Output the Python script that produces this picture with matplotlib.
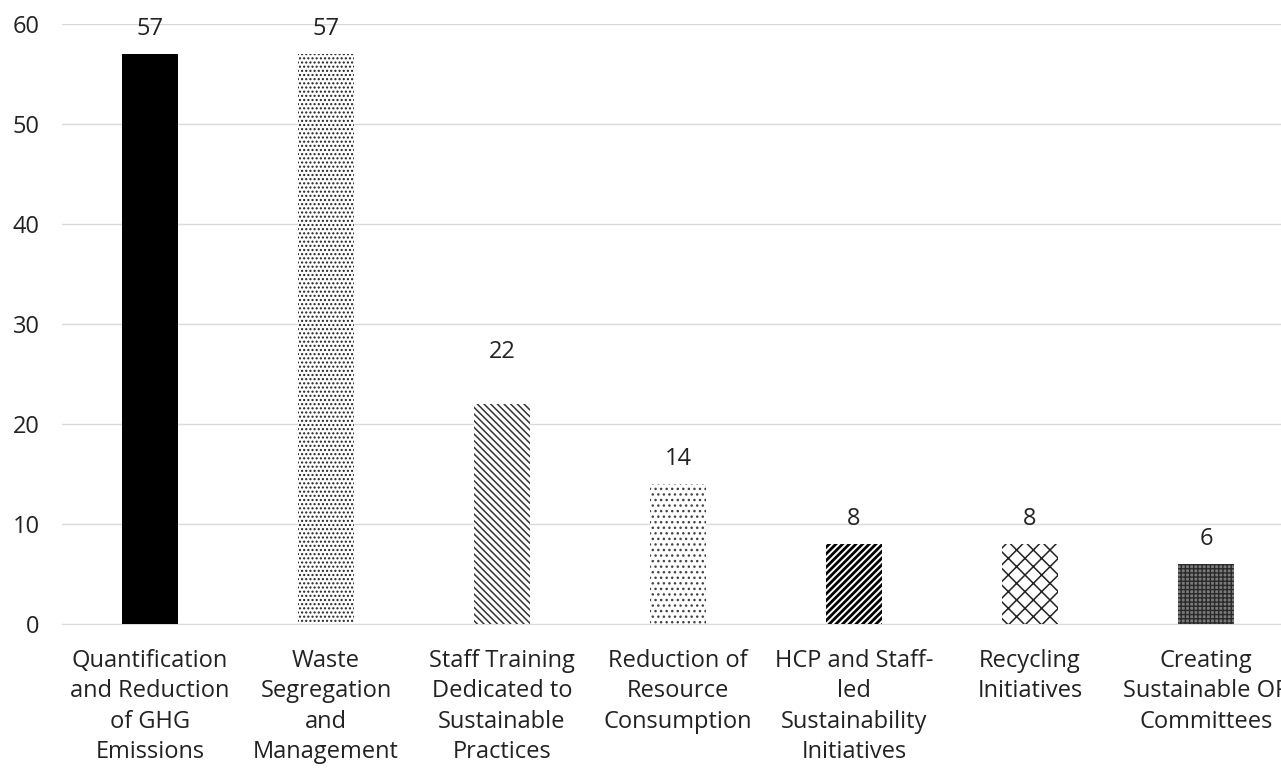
import matplotlib.pyplot as plt
import numpy as np

categories = ["Quantification\nand Reduction\nof GHG\nEmissions",
              "Waste\nSegregation\nand\nManagement",
              "Staff Training\nDedicated to\nSustainable\nPractices",
              "Reduction of\nResource\nConsumption",
              "HCP and Staff-\nled\nSustainability\nInitiatives",
              "Recycling\nInitiatives",
              "Creating\nSustainable OR\nCommittees"]
values = [57, 57, 22, 14, 8, 8, 6]

faces = ["black", "white", "white", "white", "white", "white", "#7a7a7a"]
edges = ["black", "#222222", "#333333", "#444444", "black", "#222222", "#2a2a2a"]
hatches = [None, "....", "\\\\\\\\\\", "...", "/////", "xx", "++++"]
hatch_lw = [1.0, 1.0, 1.1, 1.0, 2.0, 1.1, 1.0]
label_gap = [1.3, 1.3, 4.0, 1.3, 1.3, 1.3, 1.3]

plt.rcParams["font.family"] = ["Open Sans", "DejaVu Sans"]

fig = plt.figure(figsize=(12.81, 7.69), dpi=100)
ax = fig.add_axes([0.0484, 0.1886, 0.9617, 0.7802])

x = np.arange(len(values))
for xi, v, fc, ec, h, lw, g in zip(x, values, faces, edges, hatches, hatch_lw, label_gap):
    with plt.rc_context({"hatch.linewidth": lw}):
        ax.bar(xi, v, width=0.32, color=fc, edgecolor=ec, linewidth=0,
               hatch=h, zorder=3)
    ax.text(xi, v + g, str(v), ha="center", va="bottom", fontsize=17,
            color="#222222")

ax.set_xlim(-0.5, 6.5)
ax.set_ylim(0, 60)
ax.set_yticks(range(0, 61, 10))
ax.yaxis.grid(True, color="#d9d9d9", linewidth=1, zorder=0)
ax.set_xticks(x)
ax.set_xticklabels(categories, fontsize=17, linespacing=1.36, va="top")
ax.tick_params(axis="both", length=0, labelsize=17, colors="#222222")
ax.tick_params(axis="x", pad=18)
ax.tick_params(axis="y", pad=16)
for s in ["top", "right", "left"]:
    ax.spines[s].set_visible(False)
ax.spines["bottom"].set_color("#d9d9d9")

fig.savefig("out.png", dpi=100)
